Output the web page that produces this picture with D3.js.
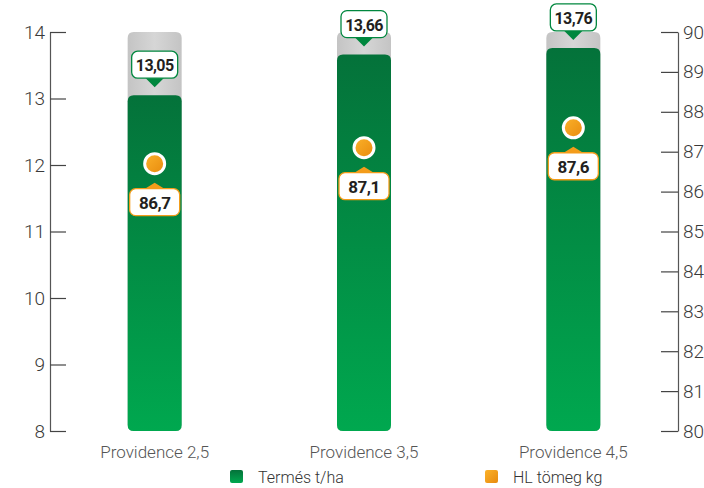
<!DOCTYPE html>
<html>
<head>
<meta charset="utf-8">
<script src="https://cdn.jsdelivr.net/npm/d3@7"></script>
<style>
  body { margin: 0; background: #fff; }
  #chart text { font-family: Roboto, "Liberation Sans", sans-serif; }
</style>
</head>
<body>
<div id="chart"></div>
<script>
'use strict';

var categories = ["Providence 2,5", "Providence 3,5", "Providence 4,5"],
    yieldValues = [13.05, 13.66, 13.76],
    hlValues = [86.7, 87.1, 87.6],
    yieldTicks = [8, 9, 10, 11, 12, 13, 14],
    hlTicks = [80, 81, 82, 83, 84, 85, 86, 87, 88, 89, 90],
    legendNames = ["Termés t/ha", "HL tömeg kg"];

var WIDTH = 704,
    HEIGHT = 488,
    MARGIN = { TOP: 32, BOTTOM: 57, LEFT: 50, RIGHT: 26 },
    BAR_WIDTH = 54,
    fmt = function (v, d) { return v.toFixed(d).replace(".", ","); };

var svg = d3.select("#chart").append("svg")
    .attr("width", WIDTH)
    .attr("height", HEIGHT);

var defs = svg.append("defs");

var gGreen = defs.append("linearGradient").attr("id", "green")
    .attr("x1", 0).attr("y1", 0).attr("x2", 0).attr("y2", 1);
gGreen.append("stop").attr("offset", "0%").attr("stop-color", "#04723a");
gGreen.append("stop").attr("offset", "100%").attr("stop-color", "#00a84f");

var gGray = defs.append("linearGradient").attr("id", "gray")
    .attr("x1", 0).attr("y1", 0).attr("x2", 1).attr("y2", 0);
gGray.append("stop").attr("offset", "0%").attr("stop-color", "#c4c4c4");
gGray.append("stop").attr("offset", "50%").attr("stop-color", "#d6d6d6");
gGray.append("stop").attr("offset", "100%").attr("stop-color", "#c4c4c4");

var gOrange = defs.append("linearGradient").attr("id", "orange")
    .attr("x1", 0).attr("y1", 0).attr("x2", 1).attr("y2", 1);
gOrange.append("stop").attr("offset", "0%").attr("stop-color", "#fbb22a");
gOrange.append("stop").attr("offset", "100%").attr("stop-color", "#e88a0d");

var x = d3.scaleBand()
    .domain(categories)
    .range([MARGIN.LEFT, WIDTH - MARGIN.RIGHT]);

var yLeft = d3.scaleLinear()
    .domain([8, 14])
    .range([HEIGHT - MARGIN.BOTTOM, MARGIN.TOP]);

var yRight = d3.scaleLinear()
    .domain([80, 90])
    .range([HEIGHT - MARGIN.BOTTOM, MARGIN.TOP]);

// rounded rect path, corner radius r
function roundedBar(x0, y0, w, h, r) {
    return "M" + x0 + "," + (y0 + r) +
        "Q" + x0 + "," + y0 + " " + (x0 + r) + "," + y0 +
        "H" + (x0 + w - r) +
        "Q" + (x0 + w) + "," + y0 + " " + (x0 + w) + "," + (y0 + r) +
        "V" + (y0 + h - r) +
        "Q" + (x0 + w) + "," + (y0 + h) + " " + (x0 + w - r) + "," + (y0 + h) +
        "H" + (x0 + r) +
        "Q" + x0 + "," + (y0 + h) + " " + x0 + "," + (y0 + h - r) + "Z";
}

// axes
var leftAxis = svg.append("g")
    .attr("transform", "translate(" + MARGIN.LEFT + ",0)")
    .call(d3.axisLeft(yLeft).tickValues(yieldTicks).tickFormat(d3.format("d"))
        .tickSize(-16).tickSizeOuter(0).tickPadding(5));

var rightAxis = svg.append("g")
    .attr("transform", "translate(" + (WIDTH - MARGIN.RIGHT) + ",0)")
    .call(d3.axisRight(yRight).tickValues(hlTicks).tickFormat(d3.format("d"))
        .tickSize(-17).tickSizeOuter(0).tickPadding(5));

[leftAxis, rightAxis].forEach(function (ax) {
    ax.select(".domain").attr("stroke", "#555").attr("stroke-width", 1.2);
    ax.selectAll(".tick line").attr("stroke", "#444").attr("stroke-width", 1.2);
    ax.selectAll(".tick text")
        .attr("fill", "#3a3a3a")
        .style("font-size", "19px")
        .style("font-weight", 300);
});

// bars
var bars = svg.append("g").selectAll("g")
    .data(categories)
    .join("g");

bars.append("path")
    .attr("d", function (d) {
        return roundedBar(x(d) + x.bandwidth() / 2 - BAR_WIDTH / 2, yLeft(14),
            BAR_WIDTH, yLeft(8) - yLeft(14), 6);
    })
    .attr("fill", "url(#gray)");

bars.append("path")
    .attr("d", function (d, i) {
        return roundedBar(x(d) + x.bandwidth() / 2 - BAR_WIDTH / 2, yLeft(yieldValues[i]),
            BAR_WIDTH, yLeft(8) - yLeft(yieldValues[i]), 6);
    })
    .attr("fill", "url(#green)");

// yield labels
var yl = bars.append("g")
    .attr("transform", function (d, i) {
        return "translate(" + (x(d) + x.bandwidth() / 2) + "," + (yLeft(yieldValues[i]) - 8) + ")";
    });
yl.append("path")
    .attr("d", "M-10,-10L10,-10L0,0Z")
    .attr("fill", "#00873e");
yl.append("rect")
    .attr("x", -23).attr("y", -36).attr("width", 46).attr("height", 27).attr("rx", 6)
    .attr("fill", "#fff").attr("stroke", "#00873e").attr("stroke-width", 1.3);
yl.append("text")
    .attr("y", -16)
    .attr("text-anchor", "middle")
    .attr("fill", "#231f20")
    .style("font-size", "16px")
    .style("font-weight", 700)
    .style("letter-spacing", "-0.6px")
    .text(function (d, i) { return fmt(yieldValues[i], 2); });

// HL dots and labels
bars.append("circle")
    .attr("cx", function (d) { return x(d) + x.bandwidth() / 2; })
    .attr("cy", function (d, i) { return yRight(hlValues[i]); })
    .attr("r", 10)
    .attr("fill", "url(#orange)")
    .attr("stroke", "#fff")
    .attr("stroke-width", 3);

var hl = bars.append("g")
    .attr("transform", function (d, i) {
        return "translate(" + (x(d) + x.bandwidth() / 2) + "," + (yRight(hlValues[i]) + 19) + ")";
    });
hl.append("path")
    .attr("d", "M-13,8L13,8L0,0Z")
    .attr("fill", "#f39c1a");
hl.append("rect")
    .attr("x", -25).attr("y", 6).attr("width", 50).attr("height", 27).attr("rx", 6)
    .attr("fill", "#fff").attr("stroke", "#f39c1a").attr("stroke-width", 1.3);
hl.append("text")
    .attr("y", 26)
    .attr("text-anchor", "middle")
    .attr("fill", "#231f20")
    .style("font-size", "17px")
    .style("font-weight", 700)
    .style("letter-spacing", "-0.5px")
    .text(function (d, i) { return fmt(hlValues[i], 1); });

// category labels
svg.append("g").selectAll("text")
    .data(categories)
    .join("text")
    .attr("x", function (d) { return x(d) + x.bandwidth() / 2; })
    .attr("y", HEIGHT - MARGIN.BOTTOM + 27)
    .attr("text-anchor", "middle")
    .attr("fill", "#555")
    .style("font-size", "17px")
    .style("font-weight", 300)
    .text(function (d) { return d; });

// legend
var legendX = [230, 485],
    legendFill = ["url(#green)", "url(#orange)"];
var legend = svg.append("g").selectAll("g")
    .data(legendNames)
    .join("g")
    .attr("transform", function (d, i) { return "translate(" + legendX[i] + ",470)"; });
legend.append("rect")
    .attr("width", 13).attr("height", 13).attr("rx", 2)
    .attr("fill", function (d, i) { return legendFill[i]; });
legend.append("text")
    .attr("x", 28).attr("y", 13)
    .attr("fill", "#333")
    .style("font-size", "16px")
    .style("font-weight", 300)
    .text(function (d) { return d; });
</script>
</body>
</html>
